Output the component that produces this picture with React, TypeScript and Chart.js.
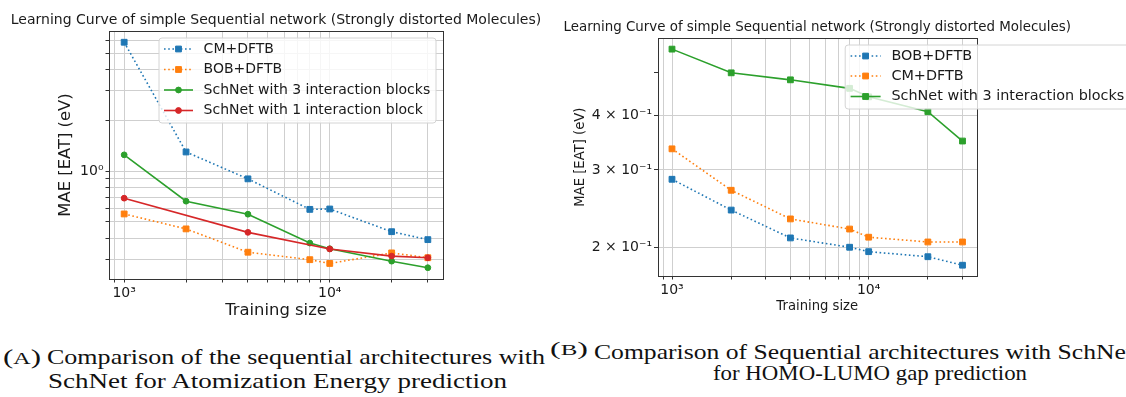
import React, { useEffect, useLayoutEffect, useRef } from "react";
import { Chart, registerables } from "chart.js";

Chart.register(...registerables);

const SANS = "'DejaVu Sans', sans-serif";
const SERIF = "'Liberation Serif', serif";

const BLUE = "#1f77b4";
const ORANGE = "#ff7f0e";
const GREEN = "#2ca02c";
const RED = "#d62728";
const INK = "#1a1a1a";
const SPINE = "#333333";
const GRID = "#cfcfcf";

const chartTitle = "Learning Curve of simple Sequential network (Strongly distorted Molecules)";

// Training set sizes shared by both learning curves
const trainingSizes = [1000, 2000, 4000, 8000, 10000, 20000, 30000];

// (A) atomization energy, MAE in eV
const aeCmDftb = [5.83, 1.3, 0.9, 0.593, 0.596, 0.437, 0.392];
const aeBobDftb = [0.557, 0.454, 0.33, 0.298, 0.283, 0.327, 0.306];
const aeSchNet3 = [1.25, 0.663, 0.555, 0.374, 0.346, 0.292, 0.267];
const aeSchNet1Sizes = [1000, 4000, 10000, 20000, 30000];
const aeSchNet1 = [0.691, 0.433, 0.345, 0.313, 0.306];

// (B) HOMO-LUMO gap, MAE in eV
const gapBobDftb = [0.2856, 0.243, 0.21, 0.2, 0.1954, 0.1903, 0.182];
const gapCmDftb = [0.335, 0.2696, 0.232, 0.22, 0.2108, 0.2056, 0.2056];
const gapSchNet3 = [0.565, 0.499, 0.481, 0.46, 0.44, 0.407, 0.349];

// Log-axis tick positions and the labels shown on them
const xTickValues = [900, 1000, 2000, 3000, 4000, 5000, 6000, 7000, 8000, 9000, 10000, 20000, 30000];
const xTickLabels: Record<string, string> = { "1000": "10³", "10000": "10⁴" };
const aeYTickValues = [0.3, 0.4, 0.5, 0.6, 0.7, 0.8, 0.9, 1, 2, 3, 4, 5, 6];
const aeYTickLabels: Record<string, string> = { "1": "10⁰" };
const gapYTickValues = [0.2, 0.3, 0.4, 0.5];
const gapYTickLabels: Record<string, string> = { "0.2": "2 × 10⁻¹", "0.3": "3 × 10⁻¹", "0.4": "4 × 10⁻¹" };
const gapYGridValues = [0.2, 0.3, 0.4];

function series(label: string, xs: number[], ys: number[], color: string, dotted: boolean, marker: "rect" | "circle") {
  return {
    label,
    data: xs.map((x, i) => ({ x, y: ys[i] })),
    borderColor: color,
    backgroundColor: color,
    borderWidth: 1.6,
    borderDash: dotted ? [1.6, 2.6] : [],
    pointStyle: marker,
    pointRadius: marker === "rect" ? 4.1 : 2.9,
    pointBorderWidth: 1,
    pointBorderColor: color,
    pointBackgroundColor: color,
    tension: 0,
    fill: false,
  };
}

function drawMarker(ctx: CanvasRenderingContext2D, ds: any, x: number, y: number) {
  ctx.fillStyle = ds.pointBackgroundColor;
  ctx.strokeStyle = ds.pointBorderColor;
  ctx.lineWidth = ds.pointBorderWidth;
  ctx.setLineDash([]);
  ctx.beginPath();
  if (ds.pointStyle === "rect") {
    const s = Math.SQRT1_2 * ds.pointRadius;
    ctx.rect(x - s, y - s, 2 * s, 2 * s);
  } else {
    ctx.arc(x, y, ds.pointRadius, 0, Math.PI * 2);
  }
  ctx.fill();
  ctx.stroke();
}

// Title centred over the plotting area
const plotTitlePlugin = {
  id: "plotTitle",
  afterDraw(chart: any, _args: any, opts: any) {
    if (!opts || !opts.text) return;
    const { ctx, chartArea } = chart;
    ctx.save();
    ctx.font = `${opts.size}px ${SANS}`;
    ctx.fillStyle = INK;
    ctx.textAlign = "center";
    ctx.textBaseline = "middle";
    ctx.fillText(opts.text, (chartArea.left + chartArea.right) / 2, opts.y);
    ctx.restore();
  },
};

// Frame around the plotting area
const spinesPlugin = {
  id: "spines",
  afterDatasetsDraw(chart: any) {
    const { ctx, chartArea } = chart;
    ctx.save();
    ctx.strokeStyle = SPINE;
    ctx.lineWidth = 1;
    ctx.setLineDash([]);
    ctx.strokeRect(
      Math.round(chartArea.left) + 0.5,
      Math.round(chartArea.top) + 0.5,
      Math.round(chartArea.right) - Math.round(chartArea.left),
      Math.round(chartArea.bottom) - Math.round(chartArea.top)
    );
    ctx.restore();
  },
};

// Boxed legend drawn over the plot
const boxLegendPlugin = {
  id: "boxLegend",
  afterDraw(chart: any, _args: any, opts: any) {
    if (!opts || !opts.rows) return;
    const { ctx } = chart;
    const { x, y, w, h, rows, handleX, handleLen, textX, fontSize } = opts;
    ctx.save();
    const r = 3;
    ctx.beginPath();
    ctx.moveTo(x + r, y);
    ctx.lineTo(x + w - r, y);
    ctx.arcTo(x + w, y, x + w, y + r, r);
    ctx.lineTo(x + w, y + h - r);
    ctx.arcTo(x + w, y + h, x + w - r, y + h, r);
    ctx.lineTo(x + r, y + h);
    ctx.arcTo(x, y + h, x, y + h - r, r);
    ctx.lineTo(x, y + r);
    ctx.arcTo(x, y, x + r, y, r);
    ctx.closePath();
    ctx.fillStyle = "rgba(255,255,255,0.8)";
    ctx.fill();
    ctx.strokeStyle = "#d4d4d4";
    ctx.lineWidth = 1;
    ctx.stroke();
    chart.data.datasets.forEach((ds: any, i: number) => {
      const cy = rows[i];
      ctx.strokeStyle = ds.borderColor;
      ctx.lineWidth = ds.borderWidth;
      ctx.setLineDash(ds.borderDash || []);
      ctx.beginPath();
      ctx.moveTo(handleX, cy);
      ctx.lineTo(handleX + handleLen, cy);
      ctx.stroke();
      drawMarker(ctx, ds, handleX + handleLen / 2, cy);
      ctx.fillStyle = INK;
      ctx.font = `${fontSize}px ${SANS}`;
      ctx.textBaseline = "middle";
      ctx.textAlign = "left";
      ctx.fillText(ds.label, textX, cy);
    });
    ctx.restore();
  },
};

type PanelLayout = {
  width: number;
  height: number;
  plotLeft: number;
  plotRight: number;
  plotTop: number;
  plotBottom: number;
  titleSize: number;
  titleCenter: number;
  tickSize: number;
  xTickPad: number;
  yTickPad: number;
  axisTitleSize: number;
  yTitleCenter: number;
  xTitleCenter: number;
};

function buildOptions(
  L: PanelLayout,
  yMin: number,
  yMax: number,
  yTicks: number[],
  yLabels: Record<string, string>,
  yGrid: number[] | null,
  legend: any
) {
  const axisLH = L.axisTitleSize * 1.2;
  return {
    responsive: false,
    animation: false,
    devicePixelRatio: 1,
    events: [],
    layout: { padding: { left: 0, top: L.plotTop, bottom: 0, right: L.width - L.plotRight } },
    plugins: {
      legend: { display: false },
      tooltip: { enabled: false },
      title: { display: false },
      plotTitle: { text: chartTitle, size: L.titleSize, y: L.titleCenter },
      boxLegend: legend,
    },
    scales: {
      x: {
        type: "logarithmic",
        min: 843.8,
        max: 35553,
        afterBuildTicks: (s: any) => {
          s.ticks = xTickValues.map((v) => ({ value: v }));
        },
        afterFit: (s: any) => {
          s.height = L.height - L.plotBottom;
        },
        border: { display: false },
        grid: { color: GRID, lineWidth: 1, tickLength: 3.5, tickColor: SPINE, tickWidth: 1 },
        ticks: {
          autoSkip: false,
          maxRotation: 0,
          minRotation: 0,
          padding: L.xTickPad,
          color: INK,
          font: { family: SANS, size: L.tickSize },
          callback: (v: any) => xTickLabels[String(v)] ?? "",
        },
        title: {
          display: true,
          text: "Training size",
          color: INK,
          font: { family: SANS, size: L.axisTitleSize },
          padding: { top: 0, bottom: L.height - L.xTitleCenter - axisLH / 2 },
        },
      },
      y: {
        type: "logarithmic",
        min: yMin,
        max: yMax,
        afterBuildTicks: (s: any) => {
          s.ticks = yTicks.map((v) => ({ value: v }));
        },
        afterFit: (s: any) => {
          s.width = L.plotLeft;
        },
        border: { display: false },
        grid: {
          color: (c: any) =>
            !yGrid || (c.tick && yGrid.some((g) => Math.abs(g - c.tick.value) < 1e-9)) ? GRID : "rgba(0,0,0,0)",
          lineWidth: 1,
          tickLength: 3.5,
          tickColor: SPINE,
          tickWidth: 1,
        },
        ticks: {
          autoSkip: false,
          padding: L.yTickPad,
          color: INK,
          font: { family: SANS, size: L.tickSize },
          callback: (v: any) => yLabels[String(v)] ?? "",
        },
        title: {
          display: true,
          text: "MAE [EAT] (eV)",
          color: INK,
          font: { family: SANS, size: L.axisTitleSize },
          padding: { top: L.yTitleCenter - axisLH / 2, bottom: 0 },
        },
      },
    },
  };
}

function Panel({ left, layout, datasets, yMin, yMax, yTicks, yLabels, yGrid, legend }: any) {
  const ref = useRef<HTMLCanvasElement>(null);
  useEffect(() => {
    if (!ref.current) return;
    const n = datasets.length;
    const chart = new Chart(ref.current, {
      type: "line",
      data: { datasets: datasets.map((d: any, i: number) => ({ ...d, order: n - i })) },
      options: buildOptions(layout, yMin, yMax, yTicks, yLabels, yGrid, legend) as any,
      plugins: [plotTitlePlugin, spinesPlugin, boxLegendPlugin],
    });
    return () => chart.destroy();
  }, []);
  return (
    <canvas
      ref={ref}
      width={layout.width}
      height={layout.height}
      style={{ position: "absolute", left, top: 0, width: layout.width, height: layout.height }}
    />
  );
}

// A caption line stretched horizontally to a set width
function CaptionLine({ children, left, baseline, width, size }: any) {
  const ref = useRef<HTMLSpanElement>(null);
  useLayoutEffect(() => {
    const el = ref.current;
    if (!el) return;
    const fit = () => {
      el.style.transform = "none";
      const w = el.getBoundingClientRect().width;
      if (w > 0 && width) el.style.transform = `scaleX(${width / w})`;
    };
    fit();
    if ((document as any).fonts) (document as any).fonts.ready.then(fit);
  }, [width]);
  return (
    <span
      ref={ref}
      style={{
        position: "absolute",
        left,
        top: baseline - size * 0.8375,
        fontFamily: SERIF,
        fontSize: size,
        lineHeight: 1,
        whiteSpace: "nowrap",
        transformOrigin: "0 0",
        color: "#111",
      }}
    >
      {children}
    </span>
  );
}

const leftLayout: PanelLayout = {
  width: 560,
  height: 330,
  plotLeft: 109,
  plotRight: 443,
  plotTop: 31,
  plotBottom: 279,
  titleSize: 14,
  titleCenter: 20,
  tickSize: 14,
  xTickPad: 2.6,
  yTickPad: 2,
  axisTitleSize: 16.4,
  yTitleCenter: 65.5,
  xTitleCenter: 311,
};

const rightLayout: PanelLayout = {
  width: 566,
  height: 330,
  plotLeft: 97.5,
  plotRight: 417,
  plotTop: 38.3,
  plotBottom: 276,
  titleSize: 13.4,
  titleCenter: 27.7,
  tickSize: 14,
  xTickPad: 2.1,
  yTickPad: 2,
  axisTitleSize: 13.2,
  yTitleCenter: 20.5,
  xTitleCenter: 306.5,
};

export default function App() {
  const aeSets = [
    series("CM+DFTB", trainingSizes, aeCmDftb, BLUE, true, "rect"),
    series("BOB+DFTB", trainingSizes, aeBobDftb, ORANGE, true, "rect"),
    series("SchNet with 3 interaction blocks", trainingSizes, aeSchNet3, GREEN, false, "circle"),
    series("SchNet with 1 interaction block", aeSchNet1Sizes, aeSchNet1, RED, false, "circle"),
  ];
  const gapSets = [
    series("BOB+DFTB", trainingSizes, gapBobDftb, BLUE, true, "rect"),
    series("CM+DFTB", trainingSizes, gapCmDftb, ORANGE, true, "rect"),
    series("SchNet with 3 interaction blocks", trainingSizes, gapSchNet3, GREEN, false, "rect"),
  ];
  return (
    <div
      style={{
        position: "absolute",
        left: 0,
        top: 0,
        width: 1126,
        height: 397,
        overflow: "hidden",
        background: "#fff",
      }}
    >
      <Panel
        left={0}
        layout={leftLayout}
        datasets={aeSets}
        yMin={0.2288}
        yMax={6.8}
        yTicks={aeYTickValues}
        yLabels={aeYTickLabels}
        yGrid={null}
        legend={{
          x: 159,
          y: 38,
          w: 277,
          h: 85,
          rows: [49, 69.5, 90, 110.5],
          handleX: 164,
          handleLen: 29,
          textX: 203.6,
          fontSize: 14,
        }}
      />
      <Panel
        left={560}
        layout={rightLayout}
        datasets={gapSets}
        yMin={0.172}
        yMax={0.598}
        yTicks={gapYTickValues}
        yLabels={gapYTickLabels}
        yGrid={gapYGridValues}
        legend={{
          x: 285.2,
          y: 45,
          w: 300,
          h: 64,
          rows: [56, 76, 96.5],
          handleX: 290.6,
          handleLen: 30,
          textX: 331.4,
          fontSize: 14.4,
        }}
      />
      <CaptionLine left={3.3} baseline={364} width={38} size={22}>
        (<span style={{ fontSize: 17 }}>A</span>)
      </CaptionLine>
      <CaptionLine left={46.7} baseline={364} width={498} size={22}>
        Comparison of the sequential architectures with
      </CaptionLine>
      <CaptionLine left={48.3} baseline={388} width={459} size={22}>
        SchNet for Atomization Energy prediction
      </CaptionLine>
      <CaptionLine left={550} baseline={355} width={38} size={18}>
        (<span style={{ fontSize: 14 }}>B</span>)
      </CaptionLine>
      <CaptionLine left={594} baseline={359} width={539} size={22}>
        Comparison of Sequential architectures with SchNet
      </CaptionLine>
      <CaptionLine left={713} baseline={380} width={314} size={22}>
        for HOMO-LUMO gap prediction
      </CaptionLine>
    </div>
  );
}
